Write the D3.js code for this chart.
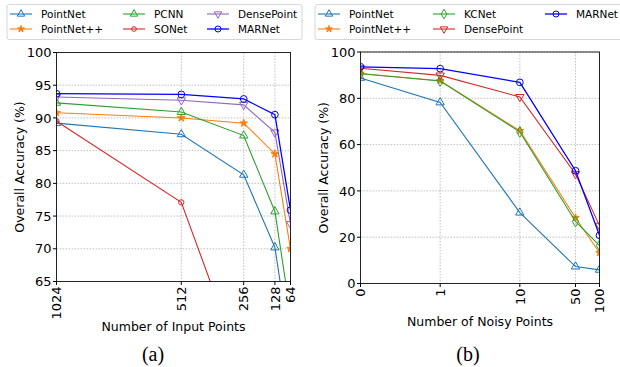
<!DOCTYPE html>
<html lang="en">
<head>
<meta charset="UTF-8">
<title>Accuracy vs input / noisy points</title>
<script src="https://d3js.org/d3.v7.min.js"></script>
<style>
    body { margin: 0; background: #fff; }
    svg text { font-family: "DejaVu Sans", sans-serif; fill: #000; }
</style>
</head>
<body>
<svg id="chart" width="620" height="367"></svg>
<script>
    // ---- data (a): number of input points ----
    const inputPoints = [1024, 512, 256, 128, 64];
    const aPointNet    = [89.2, 87.5, 81.3, 70.2, 54.6];
    const aPointNetPP  = [90.8, 90.0, 89.2, 84.5, 70.0];
    const aPCNN        = [92.3, 90.9, 87.3, 75.7, 60.0];
    const aSONet       = [89.5, 77.1, 51.0];
    const aDensePoint  = [93.2, 92.7, 92.0, 87.8, 73.8];
    const aMARNet      = [93.7, 93.6, 92.9, 90.5, 75.9];
    const aYTicks = [65, 70, 75, 80, 85, 90, 95, 100];

    // ---- data (b): number of noisy points ----
    const noisyPoints = [0, 1, 10, 50, 100];
    const bPointNet    = [88.8, 78.2, 30.6, 7.3, 5.9];
    const bPointNetPP  = [90.7, 87.6, 66.0, 28.4, 13.3];
    const bKCNet       = [90.6, 87.5, 65.5, 26.8, 16.4];
    const bDensePoint  = [93.0, 89.9, 80.6, 47.3, 25.0];
    const bMARNet      = [93.6, 92.8, 86.9, 48.7, 20.8];
    const bYTicks = [0, 20, 40, 60, 80, 100];

    const svg = d3.select("#chart");

    const sym = {
        tri:  { type: d3.symbolTriangle, size: 30, fill: false, rot: 0 },
        triD: { type: d3.symbolTriangle, size: 30, fill: false, rot: 180 },
        star: { type: d3.symbolStar, size: 18, fill: true, rot: 0 },
        circ: { type: d3.symbolCircle, size: 36, fill: false, rot: 0 },
        hex:  { type: d3.symbolCircle, size: 22, fill: false, rot: 0 },
        dia:  { type: d3.symbolDiamond, size: 34, fill: false, rot: 0 }
    };

    // symlog-ish axis used for the noisy points plot: linear up to 1, log10 beyond
    const noisyT = v => v <= 1 ? v : 1 + Math.log10(v);

    function drawPanel(p) {
        const g = svg.append("g");
        const x = v => p.x(p.tx ? p.tx(v) : v);
        const y = p.y;
        const [x0, x1] = p.x.range();
        const [y1, y0] = y.range();

        // grid
        g.selectAll(".gy").data(p.yTicks).join("line")
            .attr("x1", x0).attr("x2", x1)
            .attr("y1", d => y(d)).attr("y2", d => y(d))
            .attr("stroke", "#b0b0b0").attr("stroke-width", 0.8).attr("stroke-dasharray", "1.5,1.5");
        g.selectAll(".gx").data(p.xVals).join("line")
            .attr("x1", d => x(d)).attr("x2", d => x(d))
            .attr("y1", y0).attr("y2", y1)
            .attr("stroke", "#b0b0b0").attr("stroke-width", 0.8).attr("stroke-dasharray", "1.5,1.5");

        // series
        const clipId = "clip" + p.id;
        svg.append("clipPath").attr("id", clipId).append("rect")
            .attr("x", x0).attr("y", y0).attr("width", x1 - x0).attr("height", y1 - y0);
        const plot = g.append("g").attr("clip-path", `url(#${clipId})`);
        const line = d3.line().x(d => x(d[0])).y(d => y(d[1]));
        p.series.forEach(s => {
            const pts = s.values.map((v, i) => [p.xVals[i], v]);
            plot.append("path").attr("d", line(pts))
                .attr("fill", "none").attr("stroke", s.color).attr("stroke-width", s.width || 1.1);
            const m = sym[s.marker];
            plot.selectAll(null).data(pts).join("path")
                .attr("d", d3.symbol().type(m.type).size(m.size))
                .attr("transform", d => `translate(${x(d[0])},${y(d[1])}) rotate(${m.rot})`)
                .attr("fill", m.fill ? s.color : "none")
                .attr("stroke", s.color).attr("stroke-width", 1);
        });

        // frame
        g.append("rect").attr("x", x0).attr("y", y0).attr("width", x1 - x0).attr("height", y1 - y0)
            .attr("fill", "none").attr("stroke", "#222").attr("stroke-width", 1);

        // y axis ticks
        g.selectAll(".ty").data(p.yTicks).join("line")
            .attr("x1", x0 - 3.5).attr("x2", x0).attr("y1", d => y(d)).attr("y2", d => y(d))
            .attr("stroke", "#000");
        g.selectAll(".tyl").data(p.yTicks).join("text")
            .attr("x", x0 - 5).attr("y", d => y(d)).attr("dy", "0.36em")
            .attr("text-anchor", "end").attr("font-size", 13).text(d => d);

        // x axis ticks, rotated labels
        g.selectAll(".tx").data(p.xVals).join("line")
            .attr("x1", d => x(d)).attr("x2", d => x(d)).attr("y1", y1).attr("y2", y1 + 3.5)
            .attr("stroke", "#000");
        g.selectAll(".txl").data(p.xVals).join("text")
            .attr("transform", d => `translate(${x(d)},${y1 + 5}) rotate(-90)`)
            .attr("dy", "0.36em").attr("text-anchor", "end").attr("font-size", 13).text(d => d);

        // axis labels
        g.append("text").attr("x", (x0 + x1) / 2).attr("y", p.xLabelY)
            .attr("text-anchor", "middle").attr("font-size", 12.5).text(p.xLabel);
        g.append("text").attr("transform", `translate(${p.yLabelX},${(y0 + y1) / 2}) rotate(-90)`)
            .attr("text-anchor", "middle").attr("dy", "0.36em").attr("font-size", 12.5)
            .text("Overall Accuracy (%)");

        // caption
        g.append("text").attr("x", p.capX).attr("y", 361)
            .attr("text-anchor", "middle").attr("font-size", 20)
            .style("font-family", "'Liberation Serif', serif").text(p.caption);

        // legend
        const L = p.legend;
        g.append("rect").attr("x", L.x).attr("y", 4.5).attr("width", L.w).attr("height", 35)
            .attr("rx", 2.5).attr("fill", "#fff").attr("stroke", "#d6d6d6");
        p.series.forEach((s, i) => {
            const col = Math.floor(i / 2), row = i % 2;
            const lx = L.cols[col], ly = 14 + row * 15;
            const lg = g.append("g");
            lg.append("line").attr("x1", lx).attr("x2", lx + 22).attr("y1", ly).attr("y2", ly)
                .attr("stroke", s.color).attr("stroke-width", s.width || 1.1);
            const m = sym[s.marker];
            lg.append("path").attr("d", d3.symbol().type(m.type).size(m.size * 0.8)())
                .attr("transform", `translate(${lx + 11},${ly}) rotate(${m.rot})`)
                .attr("fill", m.fill ? s.color : "none").attr("stroke", s.color);
            lg.append("text").attr("x", lx + 31).attr("y", ly).attr("dy", "0.36em")
                .attr("font-size", 10.5).text(s.name);
        });
    }

    drawPanel({
        id: "a",
        x: d3.scaleLinear().domain([1024, 64]).range([56.5, 290.5]),
        y: d3.scaleLinear().domain([65, 100]).range([281.5, 52.5]),
        xVals: inputPoints,
        yTicks: aYTicks,
        xLabel: "Number of Input Points", xLabelY: 330.5, yLabelX: 19,
        caption: "(a)", capX: 153,
        legend: { x: 7, w: 295, cols: [10, 123, 207] },
        series: [
            { name: "PointNet",   values: aPointNet,   color: "#1f77b4", marker: "tri" },
            { name: "PointNet++", values: aPointNetPP, color: "#ff7f0e", marker: "star" },
            { name: "PCNN",       values: aPCNN,       color: "#2ca02c", marker: "tri" },
            { name: "SONet",      values: aSONet,      color: "#d62728", marker: "hex" },
            { name: "DensePoint", values: aDensePoint, color: "#9467bd", marker: "triD" },
            { name: "MARNet",     values: aMARNet,     color: "#0000ff", marker: "circ", width: 1.3 }
        ]
    });

    drawPanel({
        id: "b",
        x: d3.scaleLinear().domain([0, noisyT(100)]).range([360.5, 599.5]),
        tx: noisyT,
        y: d3.scaleLinear().domain([0, 100]).range([283.5, 52]),
        xVals: noisyPoints,
        yTicks: bYTicks,
        xLabel: "Number of Noisy Points", xLabelY: 325.5, yLabelX: 323,
        caption: "(b)", capX: 468,
        legend: { x: 315, w: 310, cols: [318, 433, 545] },
        series: [
            { name: "PointNet",   values: bPointNet,   color: "#1f77b4", marker: "tri" },
            { name: "PointNet++", values: bPointNetPP, color: "#ff7f0e", marker: "star" },
            { name: "KCNet",      values: bKCNet,      color: "#2ca02c", marker: "dia" },
            { name: "DensePoint", values: bDensePoint, color: "#d62728", marker: "triD" },
            { name: "MARNet",     values: bMARNet,     color: "#0000ff", marker: "circ", width: 1.3 }
        ]
    });
</script>
</body>
</html>
